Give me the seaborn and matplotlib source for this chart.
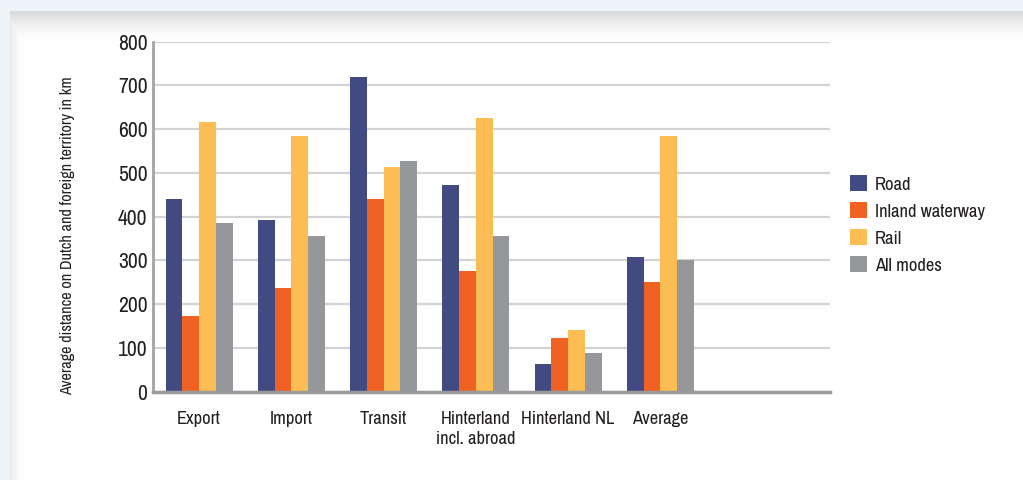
import numpy as np
import pandas as pd
import matplotlib
matplotlib.use("Agg")
import matplotlib.pyplot as plt
import seaborn as sns
from matplotlib import font_manager

# Average transport distance per flow type and mode (km)
categories = ["Export", "Import", "Transit", "Hinterland\nincl. abroad", "Hinterland NL", "Average"]
modes = ["Road", "Inland waterway", "Rail", "All modes"]
road = [441, 393, 720, 473, 64, 309]
inland_waterway = [174, 236, 441, 276, 123, 251]
rail = [616, 584, 514, 625, 141, 584]
all_modes = [386, 355, 528, 355, 88, 300]
mode_colors = ["#424A82", "#EF6224", "#FDBD55", "#96979B"]
y_ticks = [0, 100, 200, 300, 400, 500, 600, 700, 800]
y_label = "Average distance on Dutch and foreign territory in km"

sns.set_style("white")

# Prefer a narrow face if one is installed, otherwise Roboto
narrow = None
for f in font_manager.fontManager.ttflist:
    if ("Condensed" in f.name or "Narrow" in f.name) and "Bold" not in f.name:
        narrow = f.name
        break
base = narrow if narrow else "Roboto"
plt.rcParams["font.family"] = [base, "DejaVu Sans"]
scale = 1.0 if narrow else 0.85

df = pd.DataFrame({
    "category": np.repeat(categories, len(modes)),
    "mode": modes * len(categories),
    "km": np.ravel(np.column_stack([road, inland_waterway, rail, all_modes])),
})

fig = plt.figure(figsize=(10.23, 4.8), dpi=100)
fig.patch.set_facecolor("#EEF3F8")

# Page background: white card with a soft shadow along its top and left edges
H, W = 480, 1023
yy, xx = np.mgrid[0:H, 0:W].astype(float)
top = 0.15 * np.clip(1 - (yy - 11) / 30.0, 0, 1) ** 1.6
left = 0.08 * np.clip(1 - (xx - 10) / 12.0, 0, 1) ** 1.5
shade = 1.0 - np.maximum(top, left)
img = np.dstack([shade] * 3)
outside = (yy < 11) | (xx < 10)
img[outside] = np.array([0xEE, 0xF3, 0xF8]) / 255.0
bg = fig.add_axes([0, 0, 1, 1], zorder=-10)
bg.imshow(img, extent=[0, 1, 0, 1], aspect="auto", interpolation="bilinear")
bg.axis("off")

ax = fig.add_axes([153 / W, 1 - 391.7 / H, (830 - 153) / W, (391.7 - 41.7) / H])
ax.set_facecolor("none")

sns.barplot(data=df, x="category", y="km", hue="mode", hue_order=modes,
            order=categories, palette=mode_colors, width=0.727,
            saturation=1, linewidth=0, edgecolor="none",
            ax=ax, legend=True, zorder=3)

ax.set_xlim(-0.5, 6.84)
ax.set_ylim(0, 800)
ax.set_yticks(y_ticks)
ax.set_yticklabels([str(v) for v in y_ticks], fontsize=15.5 * scale, color="#231F20")
ax.tick_params(axis="x", labelsize=13.3 * scale, colors="#231F20", length=0, pad=14)
ax.tick_params(axis="y", length=0, pad=4)
for lbl in ax.get_xticklabels():
    lbl.set_linespacing(1.3)
ax.set_xlabel("")
ax.set_ylabel(y_label, fontsize=11.7 * scale, color="#231F20")
ax.yaxis.label.set_verticalalignment("center")
ax.yaxis.label.set_horizontalalignment("center")
ax.yaxis.set_label_coords(-0.127, 0.445)

ax.grid(axis="y", color="#D3D3D3", linewidth=1.6, zorder=0)
ax.grid(axis="x", visible=False)
for side in ["top", "right"]:
    ax.spines[side].set_visible(False)
ax.spines["left"].set_color("#A3A3A3")
ax.spines["left"].set_linewidth(2)
ax.spines["bottom"].set_color("#9A9A9A")
ax.spines["bottom"].set_linewidth(2.5)
ax.spines["left"].set_zorder(4)
ax.spines["bottom"].set_zorder(4)

handles, labels = ax.get_legend_handles_labels()
ax.legend(handles, labels, loc="upper left", bbox_to_anchor=(843 / W, 1 - 168 / H),
          bbox_transform=fig.transFigure, frameon=False, fontsize=13.4 * scale,
          handlelength=0.9, handleheight=0.9, handletextpad=0.4,
          labelspacing=0.53, borderaxespad=0, labelcolor="#231F20")

fig.savefig("out.png", dpi=100)
